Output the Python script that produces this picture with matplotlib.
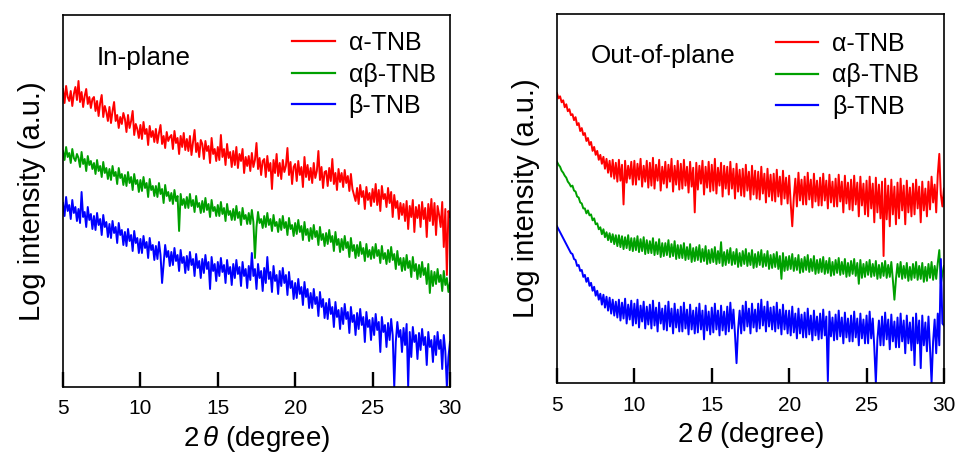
import numpy as np
import matplotlib
matplotlib.use('Agg')
import matplotlib.pyplot as plt

plt.rcParams['font.family'] = ['Liberation Sans', 'DejaVu Sans']
plt.rcParams['mathtext.fontset'] = 'custom'
plt.rcParams['mathtext.it'] = 'Liberation Sans:italic'
plt.rcParams['mathtext.rm'] = 'Liberation Sans'

# log intensity (a.u.), 2theta = 5 -> 30 in 0.1 deg steps
inplane_alpha = [
    298, 284, 301, 290, 286, 296, 281, 293, 300, 287,
    306, 285, 295, 280, 291, 298, 283, 290, 279, 288,
    290, 276, 286, 271, 284, 292, 270, 281, 275, 266,
    280, 264, 276, 285, 266, 272, 259, 270, 263, 274,
    268, 255, 272, 259, 266, 276, 252, 263, 258, 249,
    262, 248, 265, 253, 258, 242, 261, 250, 256, 245,
    258, 244, 254, 262, 243, 251, 239, 255, 246, 250,
    252, 238, 256, 244, 249, 233, 251, 240, 254, 237,
    248, 236, 251, 232, 245, 257, 235, 244, 230, 247,
    243, 228, 246, 236, 241, 224, 249, 233, 238, 226,
    240, 227, 252, 230, 238, 222, 243, 229, 235, 220,
    236, 222, 240, 219, 233, 226, 238, 214, 230, 221,
    231, 216, 234, 220, 227, 244, 218, 229, 212, 226,
    228, 210, 231, 216, 224, 198, 227, 214, 233, 211,
    224, 208, 227, 215, 221, 239, 212, 225, 203, 220,
    223, 206, 226, 212, 220, 200, 230, 210, 222, 207,
    219, 204, 224, 209, 216, 236, 207, 220, 199, 215,
    216, 201, 219, 206, 228, 203, 214, 197, 218, 205,
    214, 200, 217, 204, 211, 196, 213, 198, 192, 186,
    199, 183, 202, 190, 196, 178, 200, 187, 194, 181,
    198, 185, 203, 182, 197, 176, 201, 188, 193, 180,
    199, 184, 195, 170, 192, 179, 186, 168, 184, 172,
    183, 166, 186, 158, 181, 170, 187, 155, 180, 169,
    182, 160, 185, 168, 179, 150, 183, 166, 188, 162,
    184, 152, 181, 172, 160, 185, 140, 178, 112, 176,
    170]
inplane_ab = [
    236, 227, 240, 230, 234, 224, 238, 229, 226, 233,
    229, 220, 235, 223, 228, 216, 231, 222, 226, 218,
    224, 213, 227, 216, 221, 210, 225, 214, 219, 208,
    218, 207, 221, 211, 215, 203, 219, 209, 213, 202,
    212, 201, 215, 204, 210, 197, 213, 203, 207, 195,
    207, 196, 210, 199, 204, 190, 208, 197, 201, 191,
    201, 190, 204, 193, 198, 184, 202, 191, 195, 186,
    194, 183, 197, 186, 191, 156, 193, 182, 188, 179,
    190, 179, 193, 181, 187, 175, 191, 180, 184, 174,
    186, 175, 189, 177, 183, 170, 187, 176, 180, 171,
    182, 171, 185, 173, 179, 166, 183, 172, 176, 167,
    178, 167, 181, 169, 175, 162, 179, 168, 172, 163,
    174, 163, 177, 165, 129, 160, 175, 164, 168, 159,
    171, 160, 174, 162, 168, 156, 172, 161, 165, 155,
    168, 157, 171, 159, 165, 152, 169, 158, 162, 151,
    164, 153, 167, 155, 161, 147, 165, 152, 158, 146,
    159, 148, 162, 150, 156, 142, 160, 147, 153, 141,
    154, 143, 157, 145, 151, 136, 155, 142, 148, 135,
    148, 137, 151, 139, 145, 130, 149, 136, 142, 129,
    142, 131, 145, 133, 139, 126, 143, 130, 137, 128,
    140, 129, 143, 131, 137, 124, 141, 128, 134, 123,
    137, 125, 140, 127, 133, 118, 136, 122, 129, 116,
    129, 117, 132, 119, 126, 110, 130, 116, 123, 108,
    122, 110, 125, 112, 119, 103, 123, 94, 116, 101,
    115, 103, 118, 105, 112, 96, 116, 102, 109, 95,
    104]
inplane_beta = [
    184, 171, 190, 176, 182, 168, 187, 174, 180, 166,
    178, 164, 195, 170, 175, 160, 180, 167, 173, 158,
    171, 157, 174, 162, 168, 152, 172, 160, 165, 150,
    163, 149, 166, 154, 160, 144, 164, 152, 157, 142,
    155, 141, 158, 146, 152, 136, 156, 144, 149, 134,
    148, 134, 151, 139, 145, 129, 149, 137, 142, 127,
    141, 128, 145, 132, 104, 123, 142, 130, 136, 121,
    135, 122, 139, 126, 132, 116, 137, 124, 130, 114,
    131, 117, 135, 122, 128, 111, 133, 119, 126, 109,
    128, 114, 132, 118, 125, 98, 130, 116, 123, 106,
    125, 111, 129, 115, 122, 104, 127, 113, 120, 102,
    123, 109, 127, 113, 120, 101, 125, 111, 118, 99,
    121, 107, 134, 111, 118, 98, 123, 109, 116, 96,
    119, 104, 130, 108, 115, 95, 121, 106, 112, 93,
    116, 101, 119, 104, 112, 92, 115, 99, 106, 88,
    104, 89, 108, 93, 100, 82, 105, 90, 98, 79,
    94, 79, 98, 83, 90, 71, 95, 80, 88, 69,
    84, 68, 88, 73, 80, 60, 85, 70, 77, 58,
    79, 63, 83, 68, 75, 54, 80, 65, 72, 52,
    74, 58, 78, 62, 70, 45, 75, 60, 67, 47,
    69, 52, 73, 57, 65, 35, 70, 55, 62, 40,
    64, 47, 68, 52, 0, 45, 65, 50, 57, 35,
    59, 42, 63, 0, 55, 30, 60, 45, 52, 28,
    54, 37, 58, 42, 50, 22, 55, 40, 47, 25,
    51, 32, 55, 38, 47, 18, 52, 36, 0, 30,
    45]

outplane_alpha = [
    292, 287, 289, 283, 285, 278, 281, 274, 276, 270,
    271, 265, 268, 260, 262, 254, 257, 250, 252, 244,
    247, 240, 243, 234, 238, 230, 234, 225, 230, 221,
    228, 216, 226, 212, 224, 208, 225, 206, 222, 203,
    225, 204, 220, 180, 224, 202, 219, 206, 223, 200,
    224, 200, 221, 205, 226, 198, 219, 203, 224, 197,
    222, 199, 227, 196, 220, 204, 225, 194, 218, 201,
    223, 197, 220, 203, 226, 193, 219, 200, 224, 195,
    221, 196, 225, 199, 218, 192, 223, 198, 217, 172,
    222, 195, 219, 201, 224, 190, 218, 197, 223, 193,
    220, 194, 226, 191, 217, 199, 222, 188, 219, 196,
    218, 190, 223, 196, 216, 186, 221, 193, 215, 189,
    216, 188, 220, 194, 213, 185, 219, 190, 214, 186,
    213, 185, 218, 191, 211, 182, 216, 188, 210, 184,
    211, 183, 215, 188, 208, 180, 214, 186, 207, 181,
    209, 181, 158, 187, 206, 178, 212, 184, 205, 180,
    208, 180, 212, 185, 205, 177, 211, 183, 204, 179,
    207, 179, 211, 184, 204, 176, 210, 182, 203, 178,
    206, 178, 210, 183, 203, 172, 209, 181, 202, 175,
    205, 174, 209, 180, 202, 168, 208, 179, 201, 170,
    204, 168, 208, 176, 201, 162, 207, 172, 200, 166,
    203, 128, 206, 165, 199, 158, 205, 170, 198, 160,
    202, 166, 206, 174, 199, 160, 204, 172, 197, 168,
    201, 170, 205, 176, 198, 162, 203, 174, 196, 168,
    203, 175, 208, 182, 200, 172, 210, 231, 190, 178,
    196]
outplane_ab = [
    223, 220, 218, 214, 212, 209, 207, 203, 201, 198,
    199, 194, 193, 188, 187, 182, 181, 176, 176, 171,
    174, 169, 170, 164, 166, 160, 161, 155, 157, 150,
    155, 147, 152, 144, 151, 142, 150, 140, 149, 138,
    149, 137, 148, 135, 147, 136, 149, 134, 146, 133,
    146, 134, 148, 132, 145, 133, 147, 130, 144, 131,
    143, 131, 146, 129, 142, 130, 145, 127, 141, 128,
    141, 129, 144, 127, 140, 128, 143, 125, 139, 126,
    139, 126, 141, 124, 137, 125, 140, 122, 136, 123,
    137, 124, 139, 122, 135, 123, 138, 120, 134, 121,
    135, 122, 137, 120, 133, 121, 142, 118, 132, 119,
    134, 121, 136, 119, 132, 120, 135, 117, 131, 118,
    133, 120, 135, 118, 131, 119, 134, 116, 130, 117,
    132, 119, 134, 117, 130, 118, 133, 115, 129, 116,
    130, 117, 132, 115, 128, 105, 131, 113, 127, 114,
    128, 115, 130, 113, 126, 114, 129, 111, 125, 112,
    127, 114, 129, 112, 125, 113, 128, 110, 124, 111,
    125, 112, 127, 110, 123, 111, 126, 108, 122, 109,
    124, 111, 126, 109, 122, 110, 125, 107, 121, 108,
    123, 110, 125, 108, 121, 100, 124, 106, 120, 107,
    122, 109, 124, 107, 120, 108, 123, 105, 119, 106,
    121, 108, 123, 106, 119, 107, 122, 104, 84, 105,
    120, 107, 122, 105, 118, 106, 121, 103, 117, 104,
    120, 106, 122, 104, 118, 105, 121, 102, 117, 103,
    120, 106, 122, 104, 118, 105, 121, 134, 100, 110,
    118]
outplane_beta = [
    158, 155, 152, 149, 146, 143, 140, 137, 134, 131,
    130, 125, 124, 118, 119, 113, 114, 107, 109, 102,
    106, 98, 101, 93, 97, 88, 93, 84, 90, 79,
    89, 76, 87, 73, 86, 70, 84, 68, 82, 66,
    84, 63, 81, 65, 85, 60, 79, 64, 83, 58,
    80, 60, 84, 56, 78, 62, 82, 55, 77, 59,
    79, 55, 83, 58, 76, 52, 81, 60, 75, 54,
    78, 53, 82, 57, 75, 50, 80, 56, 74, 52,
    77, 52, 81, 55, 74, 49, 79, 54, 73, 50,
    76, 51, 80, 54, 73, 44, 78, 53, 72, 49,
    76, 51, 80, 54, 73, 48, 78, 53, 72, 49,
    77, 52, 81, 55, 74, 49, 20, 54, 73, 50,
    78, 53, 82, 57, 75, 50, 80, 56, 74, 52,
    80, 55, 84, 58, 77, 52, 82, 57, 76, 54,
    77, 52, 81, 55, 74, 49, 79, 54, 73, 50,
    73, 48, 77, 51, 70, 45, 75, 50, 69, 46,
    71, 46, 75, 49, 68, 43, 73, 48, 67, 44,
    70, 45, 74, 48, 67, 2, 72, 47, 66, 43,
    69, 44, 73, 47, 66, 40, 71, 46, 65, 42,
    68, 42, 72, 46, 65, 38, 70, 45, 64, 40,
    68, 40, 72, 45, 65, 36, 0, 44, 63, 38,
    67, 38, 71, 44, 64, 34, 69, 42, 62, 36,
    66, 36, 70, 42, 63, 30, 68, 40, 61, 33,
    66, 18, 70, 40, 63, 15, 68, 38, 61, 32,
    67, 35, 0, 42, 64, 30, 70, 38, 125, 60,
    58]

labels = ['\u03b1-TNB', '\u03b1\u03b2-TNB', '\u03b2-TNB']
colors = ['#ff0000', '#00a000', '#0000ff']
xticks = [5, 10, 15, 20, 25, 30]


def panel(ax, series, title, leg_x, leg_y):
  for y, lab, c in zip(series, labels, colors):
    two_theta = np.linspace(5.0, 30.0, len(y))
    ax.plot(two_theta, y, color=c, lw=1.4, label=lab)
  ax.set_xlim(5, 30)
  ax.set_ylim(0, 372)
  ax.set_xticks(xticks)
  ax.tick_params(axis='y', left=False, labelleft=False)
  ax.tick_params(axis='x', direction='in', length=11, width=1.7,
                 color='black', labelsize=15, pad=9)
  for s in ax.spines.values():
    s.set_linewidth(1.2)
  ax.set_xlabel('2$\\,\\theta$ (degree)', fontsize=20, labelpad=4)
  ax.set_ylabel('Log intensity (a.u.)', fontsize=21, labelpad=12)
  ax.text(0.088, 0.885, title, transform=ax.transAxes, fontsize=18.7,
          va='center', ha='left')
  leg = ax.legend(loc='upper left', bbox_to_anchor=(leg_x, leg_y),
                  frameon=False, fontsize=18, handlelength=1.7,
                  handletextpad=0.55, labelspacing=0.3, borderpad=0.2,
                  borderaxespad=0)
  for h in leg.get_lines():
    h.set_linewidth(1.6)


def main():
  fig, (ax1, ax2) = plt.subplots(1, 2, figsize=(9.59, 4.53), dpi=100)
  ax1.set_position([0.0657, 0.1457, 0.4035, 0.8212])
  ax2.set_position([0.5808, 0.1545, 0.4035, 0.8146])
  panel(ax1, [inplane_alpha, inplane_ab, inplane_beta], 'In-plane', 0.58, 0.97)
  panel(ax2, [outplane_alpha, outplane_ab, outplane_beta], 'Out-of-plane',
        0.553, 0.965)
  fig.savefig('out.png', dpi=100)


if __name__ == '__main__':
  main()
